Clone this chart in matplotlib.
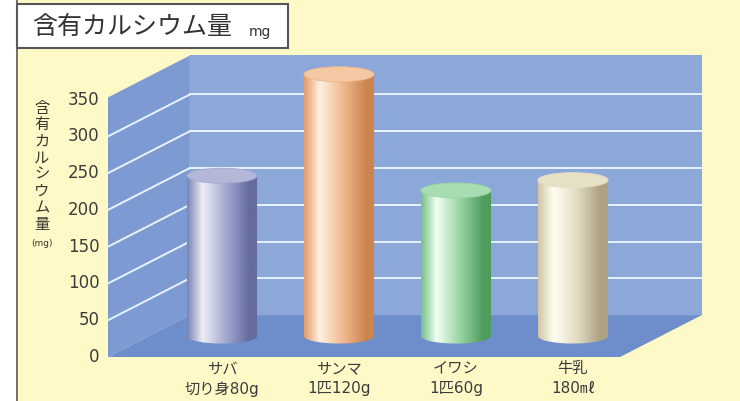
import numpy as np
import matplotlib
matplotlib.use("Agg")
import matplotlib.pyplot as plt
from matplotlib.patches import Polygon, Rectangle, Ellipse, PathPatch
from matplotlib.path import Path
from matplotlib.colors import to_rgb

plt.rcParams['font.family'] = ['Noto Sans CJK JP', 'DejaVu Sans']
LATIN_FIRST = ['DejaVu Sans', 'Noto Sans CJK JP']

# calcium content per serving
foods = ["サバ\n切り身80g", "サンマ\n1匹120g", "イワシ\n1匹60g", "牛乳\n180㎖"]
calcium_mg = [218, 356, 198, 212]
yticks = [0, 50, 100, 150, 200, 250, 300, 350]
ylabel_chars = "含有カルシウム量"

# cylinder shading: left edge, highlight, middle, right edge, top cap
bar_shades = [
    ["#7a82b4", "#eeeef6", "#a2a8d0", "#646c9e", "#b4b8d8"],
    ["#e49a66", "#fff0e2", "#f0b88e", "#cc8450", "#f4c8a2"],
    ["#74c086", "#f2fff2", "#98d4a4", "#4e9c5e", "#a8dcb2"],
    ["#cfc6a4", "#fffff2", "#e2dcc4", "#aca282", "#e6e0c6"],
]

W, H, DPI = 740, 401, 100
fig = plt.figure(figsize=(W / DPI, H / DPI), dpi=DPI)
fig.patch.set_facecolor("white")

# background panel and title box, in pixel units
bg = fig.add_axes([0, 0, 1, 1])
bg.set_xlim(0, W)
bg.set_ylim(H, 0)
bg.axis("off")
bg.add_patch(Rectangle((16, 0), W - 16, H, facecolor="#fff9c8", edgecolor="none"))
bg.plot([16.5, 16.5], [0, H], color="#5a5a5a", lw=1.2)
bg.add_patch(Rectangle((17, 4), 271, 44, facecolor="white", edgecolor="#555555", lw=1.5))
bg.text(32, 27, "含有カルシウム量", fontsize=18, va="center", ha="left", color="#333333")
bg.text(249, 32, "mg", fontsize=10, va="center", ha="left", color="#333333", family=LATIN_FIRST)
for k, ch in enumerate(ylabel_chars):
    bg.text(42, 108 + k * 16.6, ch, fontsize=11, ha="center", va="center", color="#3a382c")
bg.text(42, 243, "(mg)", fontsize=6.5, ha="center", va="center", color="#3a382c", family=LATIN_FIRST)

# chart axes over the whole figure; front face of the box spans
# x0..x1 horizontally and 0..350 vertically
x0, x1 = -0.624, 3.752
px_x = 512 / (x1 - x0)       # pixels per category unit
px_y = 257.4 / 350           # pixels per mg
ax = fig.add_axes([0, 0, 1, 1])
ax.axis("off")

ytop = 353
DX, DY = 0.70, 57  # depth offset in data units

# walls and floor
ax.add_patch(Polygon([(x0 + DX, DY), (x1 + DX, DY), (x1 + DX, ytop + DY), (x0 + DX, ytop + DY)],
                     closed=True, facecolor="#8ca8d9", edgecolor="none", zorder=1))
ax.add_patch(Polygon([(x0, 0), (x0 + DX, DY), (x0 + DX, ytop + DY), (x0, ytop)],
                     closed=True, facecolor="#7d9bd2", edgecolor="none", zorder=1))
ax.add_patch(Polygon([(x0, 0), (x1, 0), (x1 + DX, DY), (x0 + DX, DY)],
                     closed=True, facecolor="#6e8ecb", edgecolor="none", zorder=1))

# grid lines on back and side walls
for v in yticks[1:-1]:
    ax.plot([x0 + DX, x1 + DX], [v + DY, v + DY], color="#e8f3ff", lw=1.4, zorder=2)
    ax.plot([x0, x0 + DX], [v, v + DY], color="#e8f3ff", lw=1.4, zorder=2)

# cylinders
r, e = 0.30, 10.2
t = np.linspace(0, 1, 200)
for i, (val, shades) in enumerate(zip(calcium_mg, bar_shades)):
    cx = i + DX / 2
    by = DY / 2
    ty = val + DY / 2
    ang = np.linspace(np.pi, 2 * np.pi, 60)
    verts = [(cx - r, ty), (cx - r, by)]
    verts += list(zip(cx + r * np.cos(ang), by + e * np.sin(ang)))
    verts += [(cx + r, ty), (cx - r, ty)]
    codes = [Path.MOVETO] + [Path.LINETO] * (len(verts) - 2) + [Path.CLOSEPOLY]
    body = PathPatch(Path(verts, codes), facecolor="none", edgecolor="none", zorder=3)
    ax.add_patch(body)

    stops = [0.0, 0.22, 0.55, 0.88, 1.0]
    cols = np.array([to_rgb(shades[0]), to_rgb(shades[1]), to_rgb(shades[2]),
                     to_rgb(shades[3]), to_rgb(shades[3])])
    grad = np.stack([np.interp(t, stops, cols[:, c]) for c in range(3)], axis=-1)
    im = ax.imshow(grad[None, :, :], extent=(cx - r, cx + r, by - e, ty), aspect="auto",
                   interpolation="bilinear", zorder=3)
    im.set_clip_path(body)

    ax.add_patch(Ellipse((cx, ty), 2 * r, 2 * e, facecolor=shades[4],
                         edgecolor=shades[2], lw=0.6, zorder=4))

# tick labels
for v in yticks:
    ax.text(x0 - 0.07, v, str(v), ha="right", va="center", fontsize=12,
            color="#3c3c3c", family=LATIN_FIRST)
for i, name in enumerate(foods):
    ax.text(i + DX / 2, -6, name, ha="center", va="top", fontsize=11,
            linespacing=1.4, color="#3c3c3c", family=LATIN_FIRST)

ax.set_xlim(x0 - 108 / px_x, x1 + (W - 620) / px_x)
ax.set_ylim(-44 / px_y, 350 + (H - 44 - 257.4) / px_y)

fig.savefig("out.png", dpi=DPI)
